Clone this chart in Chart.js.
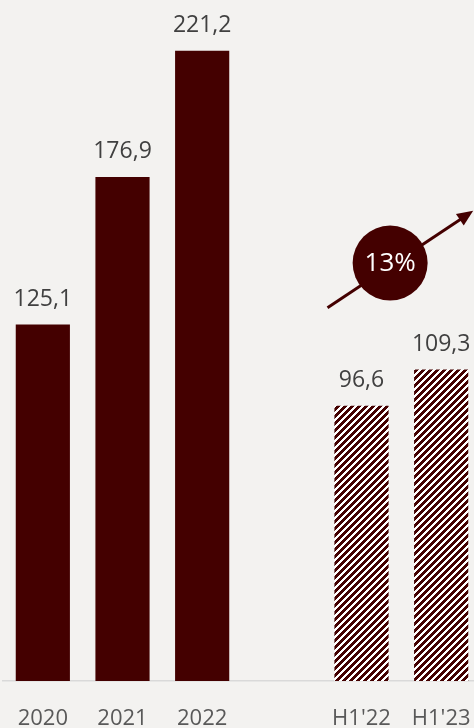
<!DOCTYPE html>
<html>
<head>
<meta charset="utf-8">
<script src="https://cdn.jsdelivr.net/npm/chart.js@4.4.0/dist/chart.umd.min.js"></script>
<style>
  html, body { margin: 0; padding: 0; background: #f3f2f0; overflow: hidden; }
  #bars { display: block; }
</style>
</head>
<body>
<canvas id="bars" width="481" height="728"></canvas>
<script>
// Revenue by year and by half-year (empty slot separates the two groups)
const periods = ['2020', '2021', '2022', '', "H1'22", "H1'23"];
const revenue = [125.1, 176.9, 221.2, null, 96.6, 109.3];
const halfYear = [false, false, false, false, true, true];

const barColor = '#440000';

// crisp diagonal stripes for the half-year bars
function stripes() {
    const size = 7;
    const c = document.createElement('canvas');
    c.width = size; c.height = size;
    const g = c.getContext('2d');
    g.fillStyle = '#ffffff';
    g.fillRect(0, 0, size, size);
    g.fillStyle = barColor;
    for (let y = 0; y < size; y++) {
        for (let x = 0; x < size; x++) {
            if ((x + y) % size < 4) g.fillRect(x, y, 1, 1);
        }
    }
    return g.createPattern(c, 'repeat');
}

const valueLabels = {
    id: 'valueLabels',
    afterDatasetsDraw(chart) {
        const ctx = chart.ctx;
        const meta = chart.getDatasetMeta(0);
        ctx.save();
        ctx.font = '23px "Open Sans"';
        ctx.fillStyle = '#404040';
        ctx.textAlign = 'center';
        ctx.textBaseline = 'bottom';
        meta.data.forEach((bar, i) => {
            if (revenue[i] == null) return;
            ctx.fillText(revenue[i].toFixed(1).replace('.', ','), bar.x, bar.y - 14);
        });
        ctx.restore();
    }
};

// growth arrow with the percentage badge
const growthBadge = {
    id: 'growthBadge',
    afterDatasetsDraw(chart) {
        const ctx = chart.ctx;
        const xs = chart.scales.x, ys = chart.scales.y;
        const x0 = xs.getPixelForValue(4) - 34, y0 = ys.getPixelForValue(131);
        const x1 = xs.getPixelForValue(5) + 32, y1 = ys.getPixelForValue(165);
        const ang = Math.atan2(y1 - y0, x1 - x0);
        const head = 16;
        ctx.save();
        ctx.strokeStyle = barColor;
        ctx.fillStyle = barColor;
        ctx.lineWidth = 3;
        ctx.beginPath();
        ctx.moveTo(x0, y0);
        ctx.lineTo(x1 - head * 0.8 * Math.cos(ang), y1 - head * 0.8 * Math.sin(ang));
        ctx.stroke();
        ctx.beginPath();
        ctx.moveTo(x1, y1);
        ctx.lineTo(x1 - head * Math.cos(ang) + 7 * Math.sin(ang), y1 - head * Math.sin(ang) - 7 * Math.cos(ang));
        ctx.lineTo(x1 - head * Math.cos(ang) - 7 * Math.sin(ang), y1 - head * Math.sin(ang) + 7 * Math.cos(ang));
        ctx.closePath();
        ctx.fill();

        const t = 0.43;
        const cx = x0 + (x1 - x0) * t, cy = y0 + (y1 - y0) * t - 3;
        ctx.beginPath();
        ctx.arc(cx, cy, 37.5, 0, Math.PI * 2);
        ctx.fill();
        const growth = Math.round((revenue[5] / revenue[4] - 1) * 100);
        ctx.fillStyle = '#ffffff';
        ctx.font = '26px "Open Sans"';
        ctx.textAlign = 'center';
        ctx.textBaseline = 'middle';
        ctx.fillText(growth + '%', cx, cy + 1);
        ctx.restore();
    }
};

const pattern = stripes();

new Chart(document.getElementById('bars'), {
    type: 'bar',
    data: {
        labels: periods,
        datasets: [{
            data: revenue,
            backgroundColor: halfYear.map(h => h ? pattern : barColor),
            borderWidth: 0,
            barPercentage: 0.68,
            categoryPercentage: 1
        }]
    },
    options: {
        responsive: false,
        animation: false,
        layout: { padding: { left: 3, right: 0, top: 0, bottom: 0 } },
        plugins: { legend: { display: false }, tooltip: { enabled: false } },
        scales: {
            x: {
                grid: { display: false, drawTicks: false },
                border: { display: true, color: '#d9d9d9', width: 1.5 },
                ticks: { color: '#595959', font: { family: 'Open Sans', size: 22 }, padding: 25, maxRotation: 0, autoSkip: false },
                afterFit(scale) {
                    scale.height = 47;
                    // labels sit inside their slots, no extra side room needed
                    scale.paddingLeft = 0;
                    scale.paddingRight = 0;
                }
            },
            y: { display: false, min: 0, max: 239 }
        }
    },
    plugins: [valueLabels, growthBadge]
});
</script>
</body>
</html>
